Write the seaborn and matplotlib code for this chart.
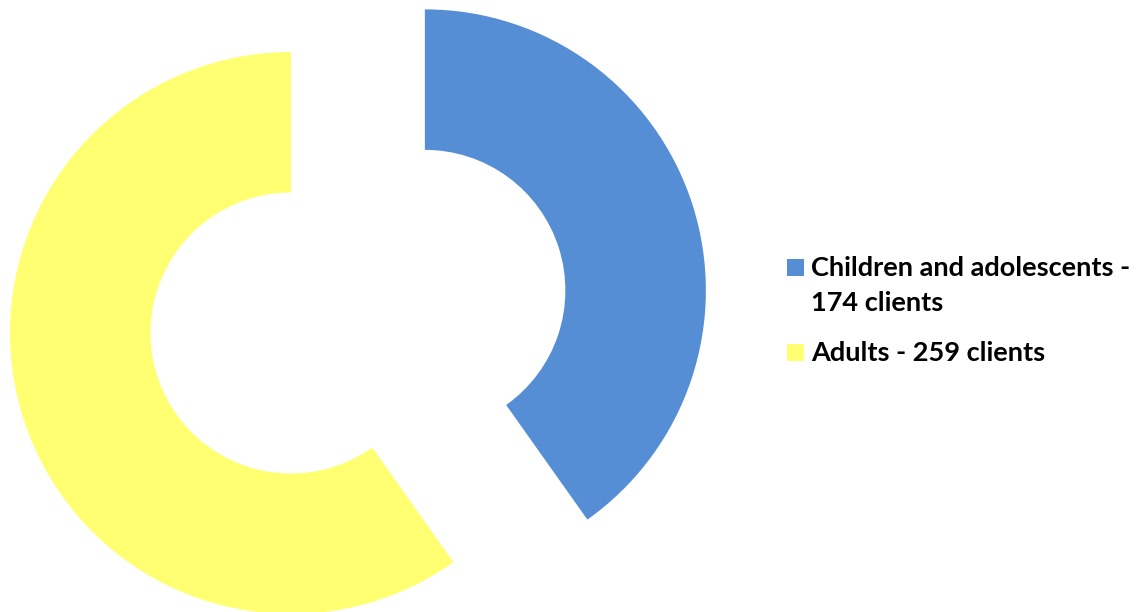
import matplotlib
matplotlib.use("Agg")
import matplotlib.pyplot as plt
from matplotlib.patches import Rectangle
import seaborn as sns

# data
groups = ["Children and adolescents -\n174 clients", "Adults - 259 clients"]
clients = [174, 259]
colors = ["#558ED5", "#FFFF71"]

sns.set_theme(style="white")
plt.rcParams['font.family'] = ['Lato', 'DejaVu Sans']

W, H = 1142, 612
fig = plt.figure(figsize=(W / 100, H / 100), dpi=100)
ax = fig.add_axes([0, 0, 1, 1])

wedges, _ = ax.pie(clients, colors=colors, startangle=90, counterclock=False,
                   explode=[0.5, 0], radius=1,
                   wedgeprops=dict(width=0.5, edgecolor="none"))

# pixel layout: outer radius ~281 px, yellow ring centred at (291, 333)
r = 281
cx, cy = 291, H - 333
ax.set_xlim(-cx / r, (W - cx) / r)
ax.set_ylim(-cy / r, (H - cy) / r)
ax.set_aspect("auto")
ax.axis("off")

# legend drawn by hand: marker lines up with the first text line
baselines = [276, 361]   # pixel rows from top
for label, col, base in zip(groups, colors, baselines):
    fig.patches.append(Rectangle((787 / W, 1 - (base - 0.5) / H), 17 / W, 17 / H,
                                 transform=fig.transFigure, facecolor=col,
                                 edgecolor="none"))
    for j, line in enumerate(label.split("\n")):
        fig.text(811 / W, 1 - (base + 35 * j) / H, line, ha="left", va="baseline",
                 fontsize=19.5, fontweight="bold", color="black")

fig.savefig("out.png", dpi=100)
